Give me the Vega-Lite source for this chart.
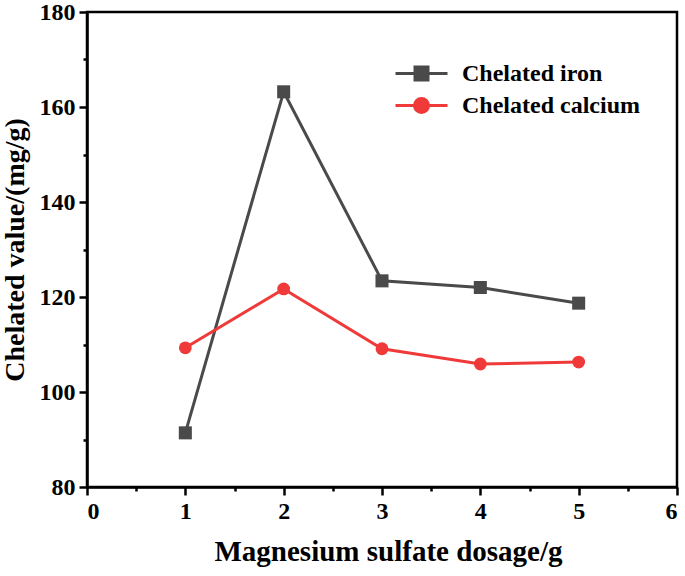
{
  "$schema": "https://vega.github.io/schema/vega-lite/v6.json",
  "width": 590,
  "height": 475,
  "autosize": {"type": "none"},
  "padding": {"left": 87, "top": 12, "right": 8, "bottom": 89},
  "background": "white",
  "config": {
    "view": {"stroke": "black", "strokeWidth": 2.5},
    "font": "Liberation Serif",
    "axis": {
      "domainColor": "black",
      "domainWidth": 2.5,
      "tickColor": "black",
      "tickWidth": 2.5,
      "grid": false,
      "labelFont": "Liberation Serif",
      "labelFontWeight": "bold",
      "labelFontSize": 24,
      "labelColor": "black",
      "titleFont": "Liberation Serif",
      "titleFontWeight": "bold",
      "titleFontSize": 28,
      "titleColor": "black"
    }
  },
  "data": {
    "values": [
      {"dosage": 1, "value": 91.4, "series": "Chelated iron"},
      {"dosage": 2, "value": 163.2, "series": "Chelated iron"},
      {"dosage": 3, "value": 123.4, "series": "Chelated iron"},
      {"dosage": 4, "value": 122.0, "series": "Chelated iron"},
      {"dosage": 5, "value": 118.7, "series": "Chelated iron"},
      {"dosage": 1, "value": 109.3, "series": "Chelated calcium"},
      {"dosage": 2, "value": 121.7, "series": "Chelated calcium"},
      {"dosage": 3, "value": 109.1, "series": "Chelated calcium"},
      {"dosage": 4, "value": 105.9, "series": "Chelated calcium"},
      {"dosage": 5, "value": 106.3, "series": "Chelated calcium"}
    ]
  },
  "encoding": {
    "x": {
      "field": "dosage",
      "type": "quantitative",
      "scale": {"domain": [0, 6], "nice": false, "zero": false},
      "axis": {
        "title": "Magnesium sulfate dosage/g",
        "values": [0, 0.5, 1, 1.5, 2, 2.5, 3, 3.5, 4, 4.5, 5, 5.5, 6],
        "format": "~g",
        "labelExpr": "datum.value % 1 === 0 ? datum.label : ''",
        "tickSize": {"condition": {"test": "datum.value % 1 !== 0", "value": 4}, "value": 8},
        "labelPadding": 4,
        "titleFontSize": 29,
        "titleX": 301,
        "titlePadding": 14
      }
    },
    "y": {
      "field": "value",
      "type": "quantitative",
      "scale": {"domain": [80, 180], "nice": false, "zero": false},
      "axis": {
        "title": "Chelated value/(mg/g)",
        "values": [80, 90, 100, 110, 120, 130, 140, 150, 160, 170, 180],
        "format": "d",
        "labelExpr": "datum.value % 20 === 0 ? datum.label : ''",
        "tickSize": {"condition": {"test": "datum.value % 20 !== 0", "value": 4}, "value": 8},
        "labelPadding": 4,
        "titleX": -58
      }
    }
  },
  "layer": [
    {
      "mark": {"type": "line", "strokeWidth": 3},
      "encoding": {
        "color": {
          "field": "series",
          "type": "nominal",
          "sort": ["Chelated iron", "Chelated calcium"],
          "scale": {"domain": ["Chelated iron", "Chelated calcium"], "range": ["#4a4a4a", "#f03a3a"]},
          "legend": {
            "title": null,
            "orient": "none",
            "legendX": 320,
            "legendY": 47,
            "symbolType": "M-2,0H2M-0.5,-0.5H0.5V0.5H-0.5Z",
            "symbolSize": 676,
            "symbolStrokeWidth": 3,
            "labelFont": "Liberation Serif",
            "labelFontWeight": "bold",
            "labelFontSize": 24,
            "labelColor": "black",
            "labelLimit": 400,
            "rowPadding": 5,
            "labelOffset": 26,
            "encode": {
              "symbols": {
                "update": {
                  "shape": {"signal": "datum.value === 'Chelated iron' ? 'M-2,0H2M-0.5,-0.5H0.5V0.5H-0.5Z' : 'M-2,0H2M0.54,0A0.54,0.54 0 1,1 -0.54,0A0.54,0.54 0 1,1 0.54,0Z'"},
                  "fill": {"signal": "datum.value === 'Chelated iron' ? '#4a4a4a' : '#f03a3a'"}
                }
              }
            }
          }
        }
      }
    },
    {
      "transform": [{"filter": "datum.series === 'Chelated iron'"}],
      "mark": {"type": "point", "shape": "square", "filled": true, "size": 170, "color": "#4a4a4a", "opacity": 1}
    },
    {
      "transform": [{"filter": "datum.series === 'Chelated calcium'"}],
      "mark": {"type": "point", "shape": "circle", "filled": true, "size": 165, "color": "#f03a3a", "opacity": 1}
    }
  ]
}
